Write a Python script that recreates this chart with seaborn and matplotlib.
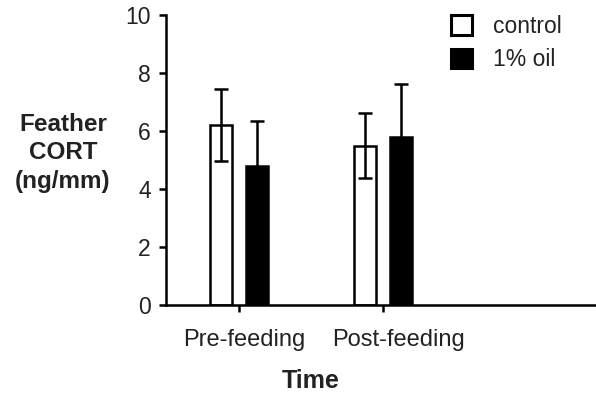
import pandas as pd
import matplotlib
matplotlib.use("Agg")
import matplotlib.pyplot as plt
import matplotlib.transforms as mtransforms
from matplotlib.patches import Patch
import seaborn as sns

# --- DATA ---
times = ["Pre-feeding", "Post-feeding"]
groups = ["control", "1% oil"]
control_mean = [6.2, 5.5]
control_sem = [1.25, 1.12]
oil_mean = [4.8, 5.8]
oil_sem = [1.55, 1.82]

df = pd.DataFrame({
    "Time": times * 2,
    "Group": [groups[0]] * 2 + [groups[1]] * 2,
    "CORT": control_mean + oil_mean,
    "SEM": control_sem + oil_sem,
})

sns.set_style("ticks")
plt.rcParams["font.family"] = ["Liberation Sans", "DejaVu Sans"]
TXT = "#222222"

fig = plt.figure(figsize=(5.96, 3.96), dpi=100)
ax = fig.add_axes([0.2785, 0.2298, 0.7215, 0.7323])

sns.barplot(data=df, x="Time", y="CORT", hue="Group", order=times, hue_order=groups,
            palette={"control": "white", "1% oil": "black"}, edgecolor="black",
            linewidth=1.8, width=0.49, gap=0.375, errorbar=None, legend=False, ax=ax)

# error bars on top of each bar
for patch_group, (means, sems) in zip([ax.patches[:2], ax.patches[2:4]],
                                      [(control_mean, control_sem), (oil_mean, oil_sem)]):
    xs = [p.get_x() + p.get_width() / 2 for p in patch_group]
    ax.errorbar(xs, means, yerr=sems, fmt="none", ecolor="black", elinewidth=1.8,
                capsize=5, capthick=1.8, zorder=5)

ax.set_xlim(-0.507, 2.48)
ax.set_ylim(0, 10)
ax.set_yticks([0, 2, 4, 6, 8, 10])
ax.set_xticks([0, 1])
ax.set_xticklabels(times)
sns.despine(ax=ax)
for s in ["left", "bottom"]:
    ax.spines[s].set_linewidth(1.8)
    ax.spines[s].set_color("black")
ax.tick_params(axis="both", width=1.8, length=5, labelsize=16.5, colors="black",
               labelcolor=TXT, pad=6)
ax.tick_params(axis="x", pad=12, labelsize=17)

# the original labels sit a little right of their ticks
for lab, dx in zip(ax.get_xticklabels(), [5, 16]):
    lab.set_transform(lab.get_transform() +
                      mtransforms.ScaledTranslation(dx / 100, 0, fig.dpi_scale_trans))

ax.set_xlabel("Time", fontsize=18, fontweight="bold", color=TXT)
ax.xaxis.set_label_coords(0.337, -0.22)
ax.set_ylabel("Feather\nCORT\n(ng/mm)", fontsize=17.5, fontweight="bold", color=TXT,
              rotation=0, ha="center", va="center", multialignment="center",
              linespacing=1.3)
ax.yaxis.set_label_coords(-0.2395, 0.525)

handles = [Patch(facecolor="white", edgecolor="black", linewidth=2.2),
           Patch(facecolor="black", edgecolor="black", linewidth=2.2)]
leg = fig.legend(handles, groups, loc="upper left", bbox_to_anchor=(0.732, 1.0),
                 frameon=False, fontsize=16.5, handlelength=0.93, handleheight=0.9,
                 handletextpad=0.9, labelspacing=0.45, borderaxespad=0.25)
for t in leg.get_texts():
    t.set_color(TXT)

fig.savefig("out.png", dpi=100)
